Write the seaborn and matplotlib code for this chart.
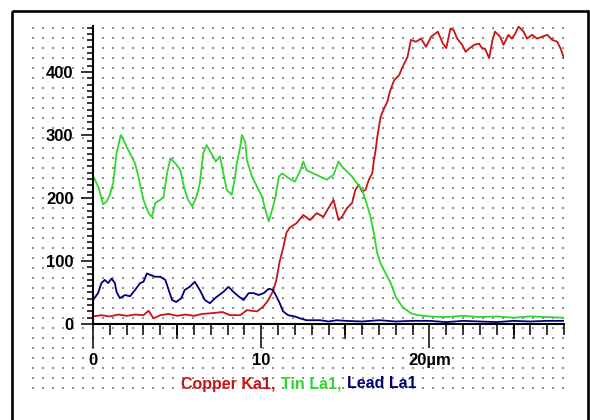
import numpy as np
import pandas as pd
import matplotlib
matplotlib.use("Agg")
import matplotlib.pyplot as plt
import seaborn as sns
from matplotlib.patches import Rectangle
from matplotlib.ticker import FixedLocator, MultipleLocator
from matplotlib.offsetbox import TextArea, HPacker, AnchoredOffsetbox

# Line-scan profile (distance in µm, counts)
copper_x = [0.0, 0.5, 1.0, 1.5, 2.0, 2.5, 3.0, 3.3, 3.6, 4.0, 4.5, 5.0, 5.5, 6.0, 6.5, 7.0,
            7.7, 8.15, 8.75, 9.15, 9.75, 10.1, 10.4, 10.7, 10.9, 11.1, 11.3, 11.5, 11.7, 12.1,
            12.5, 12.9, 13.3, 13.7, 14.0, 14.3, 14.6, 14.8, 15.1, 15.4, 15.6, 15.8, 16.0, 16.2,
            16.4, 16.6, 16.7, 16.8, 16.9, 17.0, 17.1, 17.3, 17.5, 17.65, 17.9, 18.2, 18.4, 18.7,
            18.9, 19.2, 19.5, 19.8, 20.1, 20.5, 20.8, 21.0, 21.25, 21.45, 21.65, 21.95, 22.15,
            22.35, 22.65, 22.95, 23.15, 23.3, 23.55, 23.75, 23.9, 24.2, 24.4, 24.7, 24.9, 25.1,
            25.3, 25.6, 25.8, 26.1, 26.4, 26.7, 27.0, 27.3, 27.6, 27.8, 28.0]
copper_y = [12, 14, 12, 15, 13, 15, 14, 21, 9, 14, 16, 13, 15, 13, 16, 17,
            19, 14, 14, 22, 20, 27, 37, 52, 70, 100, 120, 145, 153, 160,
            173, 165, 176, 170, 184, 197, 165, 170, 184, 192, 213, 221, 210, 213,
            229, 239, 260, 276, 297, 313, 329, 342, 353, 369, 387, 395, 408, 424,
            451, 448, 453, 440, 456, 464, 445, 438, 469, 466, 453, 443, 432,
            437, 443, 445, 437, 437, 422, 451, 464, 456, 443, 459, 453, 461,
            472, 464, 453, 459, 453, 456, 459, 451, 448, 437, 422]

tin_x = [0.0, 0.1, 0.35, 0.6, 0.8, 1.0, 1.2, 1.4, 1.65, 1.85, 2.0, 2.2, 2.5, 2.7, 3.0, 3.3,
         3.5, 3.7, 4.0, 4.2, 4.4, 4.6, 4.9, 5.2, 5.4, 5.65, 5.9, 6.15, 6.35, 6.55, 6.75, 7.05,
         7.3, 7.55, 7.75, 7.95, 8.25, 8.45, 8.55, 8.75, 8.85, 9.05, 9.15, 9.45, 9.75, 10.05,
         10.25, 10.45, 10.65, 10.85, 11.05, 11.25, 11.65, 12.0, 12.3, 12.5, 12.7, 13.1, 13.5,
         13.9, 14.3, 14.6, 14.8, 15.1, 15.4, 15.7, 16.0, 16.2, 16.5, 16.7, 16.9, 17.1, 17.4,
         17.7, 18.0, 18.4, 18.9, 19.3, 20.0, 21.0, 22.0, 23.0, 24.0, 25.0, 26.0, 27.0, 28.0]
tin_y = [235, 230, 215, 190, 194, 205, 224, 271, 300, 290, 281, 271, 255, 234, 197, 176,
         170, 192, 197, 202, 239, 263, 255, 244, 218, 197, 187, 202, 223, 271, 284, 270,
         258, 266, 239, 213, 205, 234, 255, 281, 300, 289, 260, 234, 218, 202,
         181, 163, 181, 202, 234, 239, 231, 226, 242, 258, 244, 239, 234,
         229, 237, 258, 250, 242, 234, 223, 213, 197, 170, 144, 112, 96, 80,
         65, 43, 27, 17, 14, 12, 11, 13, 11, 12, 10, 12, 11, 10]

lead_x = [0.0, 0.3, 0.5, 0.7, 0.9, 1.1, 1.3, 1.4, 1.6, 1.9, 2.2, 2.5, 2.8, 3.0, 3.2, 3.4,
          3.7, 4.0, 4.3, 4.5, 4.7, 4.95, 5.25, 5.45, 5.75, 6.05, 6.35, 6.65, 6.95, 7.3, 7.75,
          8.05, 8.35, 8.65, 8.95, 9.25, 9.55, 9.85, 10.15, 10.45, 10.7, 10.9, 11.1, 11.3,
          11.6, 12.0, 12.3, 12.7, 13.5, 14.0, 14.5, 15.0, 16.0, 17.0, 18.0, 19.0, 20.0, 21.0,
          22.0, 23.0, 24.0, 25.0, 26.0, 27.0, 28.0]
lead_y = [38, 49, 65, 70, 65, 72, 65, 51, 41, 46, 44, 54, 65, 67, 80, 78,
          75, 75, 70, 54, 38, 35, 41, 54, 59, 67, 54, 38, 33, 42, 51,
          59, 51, 44, 38, 49, 49, 46, 49, 56, 54, 44, 33, 20,
          14, 12, 9, 6, 6, 4, 6, 5, 4, 6, 4, 5, 5, 3,
          5, 4, 3, 5, 4, 5, 5]

series_names = ["Copper Ka1", "Tin La1", "Lead La1"]
series_colors = ["#c81414", "#2ed82e", "#000080"]

x_tick_values = [0, 10, 20]
x_tick_labels = ["0", "10", "20µm"]
y_tick_values = [0, 100, 200, 300, 400]

df = pd.concat([
    pd.DataFrame({"dist": copper_x, "counts": copper_y, "line": series_names[0]}),
    pd.DataFrame({"dist": tin_x, "counts": tin_y, "line": series_names[1]}),
    pd.DataFrame({"dist": lead_x, "counts": lead_y, "line": series_names[2]}),
], ignore_index=True)

sns.set_style("white")
plt.rcParams["font.family"] = ["Liberation Sans", "DejaVu Sans"]
plt.rcParams["text.color"] = "black"
plt.rcParams["xtick.color"] = "black"
plt.rcParams["ytick.color"] = "black"

W, H = 590, 420
fig = plt.figure(figsize=(W / 100, H / 100), dpi=100)
fig.patch.set_facecolor("white")

# Background panel: dotted lattice and outer frame, in pixel units
bg = fig.add_axes([0, 0, 1, 1], zorder=0)
bg.set_xlim(0, W)
bg.set_ylim(H, 0)
bg.axis("off")
gx, gy = np.meshgrid(np.arange(33, 569, 10), np.arange(28.3, 398, 10))
bg.scatter(gx.ravel(), gy.ravel(), s=0.9, marker="s", color="#8c8c8c", linewidths=0)
bg.add_patch(Rectangle((11.5, 10.5), 576.5, 420, fill=False, edgecolor="black", linewidth=1.9))

# Main plot
ax = fig.add_axes([93 / W, 1 - 324 / H, (564 - 93) / W, (324 - 26) / H], zorder=2)
ax.patch.set_alpha(0)
sns.lineplot(data=df, x="dist", y="counts", hue="line", hue_order=series_names,
             palette=series_colors, estimator=None, sort=False, linewidth=1.3,
             legend=False, ax=ax)

ax.set_xlim(0, 28)
ax.set_ylim(0, 473)
ax.set_xlabel("")
ax.set_ylabel("")
for side in ("top", "right"):
    ax.spines[side].set_visible(False)
for side in ("left", "bottom"):
    ax.spines[side].set_linewidth(1.5)
    ax.spines[side].set_color("black")

ax.xaxis.set_major_locator(FixedLocator(x_tick_values))
ax.set_xticklabels(x_tick_labels)
ax.xaxis.set_minor_locator(MultipleLocator(1))
ax.yaxis.set_major_locator(FixedLocator(y_tick_values))
ax.yaxis.set_minor_locator(MultipleLocator(10))

ax.tick_params(axis="x", which="both", bottom=True, top=False, colors="black")
ax.tick_params(axis="y", which="both", left=True, right=False, colors="black")
ax.tick_params(axis="x", which="major", direction="out", length=17, width=1.1,
               pad=4, labelsize=12, labelcolor="black")
ax.tick_params(axis="x", which="minor", direction="out", length=8, width=1.1)
ax.tick_params(axis="y", which="major", direction="out", length=9, width=1.1,
               pad=5, labelsize=12, labelcolor="black")
ax.tick_params(axis="y", which="minor", direction="out", length=4.5, width=1.1)
for lab in ax.get_xticklabels() + ax.get_yticklabels():
    lab.set_fontweight("bold")

# Medium ticks at the half-decades
mid = ax.secondary_xaxis("bottom")
mid.set_xticks([5, 15, 25])
mid.tick_params(axis="x", which="major", bottom=True, direction="out", length=11,
                width=1.1, colors="black", labelbottom=False)
mid.xaxis.set_minor_locator(FixedLocator([]))
mid.spines["bottom"].set_visible(False)

# Coloured caption naming the three lines
parts = [TextArea(name + sep, textprops=dict(color=col, fontsize=11.5, fontweight="bold"))
         for name, sep, col in zip(series_names, [",", ",", ""], series_colors)]
caption = HPacker(children=parts, align="baseline", pad=0, sep=4)
anchored = AnchoredOffsetbox(loc="center", child=caption, frameon=False,
                             bbox_to_anchor=(299 / W, 1 - 384 / H),
                             bbox_transform=fig.transFigure, pad=0, borderpad=0)
fig.add_artist(anchored)

fig.savefig("out.png", dpi=100)
